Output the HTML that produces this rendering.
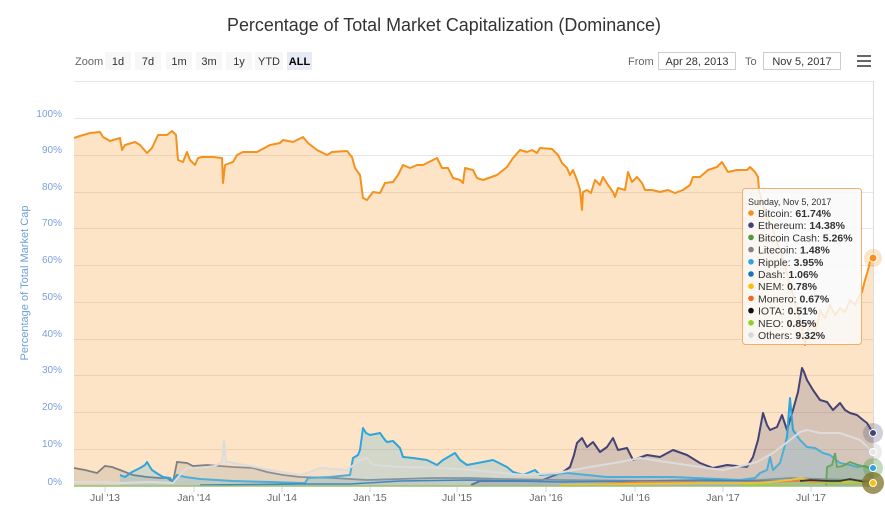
<!DOCTYPE html>
<html><head><meta charset="utf-8"><style>
html,body{margin:0;padding:0;background:#fff;}
svg{display:block;font-family:"Liberation Sans",Arial,sans-serif;}
</style></head><body>
<svg width="885" height="513" viewBox="0 0 885 513" xmlns="http://www.w3.org/2000/svg">
<rect width="885" height="513" fill="#fff"/>
<!-- Title -->
<text x="444" y="31" text-anchor="middle" font-size="18" fill="#333" textLength="434" lengthAdjust="spacingAndGlyphs">Percentage of Total Market Capitalization (Dominance)</text>

<!-- Range selector -->
<text x="75" y="65" font-size="11" fill="#666">Zoom</text>
<g font-size="11" fill="#333" text-anchor="middle">
<rect x="105" y="52" width="26" height="18" fill="#f7f7f7"/><text x="118" y="65">1d</text>
<rect x="135" y="52" width="26" height="18" fill="#f7f7f7"/><text x="148" y="65">7d</text>
<rect x="166" y="52" width="26" height="18" fill="#f7f7f7"/><text x="179" y="65">1m</text>
<rect x="196" y="52" width="26" height="18" fill="#f7f7f7"/><text x="209" y="65">3m</text>
<rect x="226" y="52" width="26" height="18" fill="#f7f7f7"/><text x="239" y="65">1y</text>
<rect x="255" y="52" width="28" height="18" fill="#f7f7f7"/><text x="269" y="65">YTD</text>
<rect x="287" y="52" width="25" height="18" fill="#e6ebf5"/><text x="299.5" y="65" font-weight="bold" fill="#000">ALL</text>
</g>
<text x="628" y="65" font-size="11" fill="#666">From</text>
<rect x="658.5" y="52.5" width="77" height="17" fill="#fff" stroke="#ccc"/>
<text x="697" y="65" font-size="11" fill="#333" text-anchor="middle">Apr 28, 2013</text>
<text x="745" y="65" font-size="11" fill="#666">To</text>
<rect x="763.5" y="52.5" width="77" height="17" fill="#fff" stroke="#ccc"/>
<text x="802" y="65" font-size="11" fill="#333" text-anchor="middle">Nov 5, 2017</text>
<g stroke="#666" stroke-width="2"><line x1="857" y1="56" x2="871" y2="56"/><line x1="857" y1="61" x2="871" y2="61"/><line x1="857" y1="66" x2="871" y2="66"/></g>

<!-- Gridlines -->
<g stroke="#e6e6e6" stroke-width="1">
<line x1="74" y1="81.5" x2="873" y2="81.5"/>
<line x1="74" y1="118.5" x2="873" y2="118.5"/>
<line x1="74" y1="155.5" x2="873" y2="155.5"/>
<line x1="74" y1="192.5" x2="873" y2="192.5"/>
<line x1="74" y1="228.5" x2="873" y2="228.5"/>
<line x1="74" y1="265.5" x2="873" y2="265.5"/>
<line x1="74" y1="302.5" x2="873" y2="302.5"/>
<line x1="74" y1="339.5" x2="873" y2="339.5"/>
<line x1="74" y1="375.5" x2="873" y2="375.5"/>
<line x1="74" y1="412.5" x2="873" y2="412.5"/>
<line x1="74" y1="449.5" x2="873" y2="449.5"/>
</g>
<line x1="873.5" y1="81" x2="873.5" y2="486" stroke="#ddd"/>

<!-- Y labels -->
<g font-size="10" fill="#7b9fdc" text-anchor="end">
<text x="62" y="117">100%</text>
<text x="62" y="153">90%</text>
<text x="62" y="190">80%</text>
<text x="62" y="226">70%</text>
<text x="62" y="263">60%</text>
<text x="62" y="300">50%</text>
<text x="62" y="337">40%</text>
<text x="62" y="373">30%</text>
<text x="62" y="410">20%</text>
<text x="62" y="447">10%</text>
<text x="62" y="485">0%</text>
</g>
<text transform="translate(28,283) rotate(-90)" font-size="11" fill="#6d9fd8" text-anchor="middle" textLength="155" lengthAdjust="spacingAndGlyphs">Percentage of Total Market Cap</text>

<!-- Bitcoin area -->
<path id="btc" fill="rgba(247,147,26,0.25)" stroke="none" d="M74,486 L74,138 80,136 90,133 100,132 103,137 110,141 120,138 122,150 125,145 135,142 140,145 147,153 152,148 158,135 167,135 172,131 176,135 178,160 183,162 187,152 190,160 195,165 198,158 202,157 213,157 222,158 223,183 225,165 230,163 233,162 237,155 243,152 257,152 270,145 280,143 283,140 293,142 303,137 308,143 317,150 327,155 332,152 347,151 352,157 355,168 360,175 363,198 367,200 373,192 380,193 385,183 393,182 398,175 403,165 410,168 417,165 423,165 437,158 442,168 448,168 453,178 460,180 463,183 465,168 473,170 477,178 483,180 497,175 507,167 513,158 520,150 527,152 532,150 537,153 540,148 552,149 558,155 562,163 567,168 570,175 573,170 577,180 580,190 582,210 583,192 587,190 591,193 595,180 600,185 603,177 608,185 613,192 615,197 618,188 625,190 628,172 632,182 637,177 642,183 645,190 652,190 660,192 668,190 675,193 683,190 690,185 693,177 700,177 708,170 717,167 722,162 728,172 737,170 747,170 750,167 755,172 758,177 759,190 763,205 768,220 772,225 776,240 780,250 785,265 790,285 795,300 800,320 805,345 808,330 812,320 816,330 820,310 825,318 830,305 835,315 840,308 845,312 850,300 855,305 858,298 862,292 865,280 868,270 870,262 873,258 L873,486 Z"/>
<polyline fill="none" stroke="#f5921e" stroke-width="2" stroke-linejoin="round" points="74,138 80,136 90,133 100,132 103,137 110,141 120,138 122,150 125,145 135,142 140,145 147,153 152,148 158,135 167,135 172,131 176,135 178,160 183,162 187,152 190,160 195,165 198,158 202,157 213,157 222,158 223,183 225,165 230,163 233,162 237,155 243,152 257,152 270,145 280,143 283,140 293,142 303,137 308,143 317,150 327,155 332,152 347,151 352,157 355,168 360,175 363,198 367,200 373,192 380,193 385,183 393,182 398,175 403,165 410,168 417,165 423,165 437,158 442,168 448,168 453,178 460,180 463,183 465,168 473,170 477,178 483,180 497,175 507,167 513,158 520,150 527,152 532,150 537,153 540,148 552,149 558,155 562,163 567,168 570,175 573,170 577,180 580,190 582,210 583,192 587,190 591,193 595,180 600,185 603,177 608,185 613,192 615,197 618,188 625,190 628,172 632,182 637,177 642,183 645,190 652,190 660,192 668,190 675,193 683,190 690,185 693,177 700,177 708,170 717,167 722,162 728,172 737,170 747,170 750,167 755,172 758,177 759,190 763,205 768,220 772,225 776,240 780,250 785,265 790,285 795,300 800,320 805,345 808,330 812,320 816,330 820,310 825,318 830,305 835,315 840,308 845,312 850,300 855,305 858,298 862,292 865,280 868,270 870,262 873,258"/>

<!-- Ethereum -->
<path fill="rgba(67,67,117,0.2)" d="M471,486 L471,485 480,481 500,481 540,481 563,472 570,467 574,455 577,443 582,438 587,447 593,442 600,452 607,447 613,438 618,450 627,448 633,460 647,455 660,457 673,450 687,455 700,463 713,468 727,465 747,467 753,457 758,440 763,413 767,425 770,430 777,427 782,415 787,430 793,410 798,392 802,368 804,372 807,380 813,390 820,400 827,402 833,410 840,403 845,410 850,413 857,415 863,420 867,423 873,433 L873,486 Z"/>
<polyline fill="none" stroke="#434375" stroke-width="2" stroke-linejoin="round" points="471,485 480,481 500,481 540,481 563,472 570,467 574,455 577,443 582,438 587,447 593,442 600,452 607,447 613,438 618,450 627,448 633,460 647,455 660,457 673,450 687,455 700,463 713,468 727,465 747,467 753,457 758,440 763,413 767,425 770,430 777,427 782,415 787,430 793,410 798,392 802,368 804,372 807,380 813,390 820,400 827,402 833,410 840,403 845,410 850,413 857,415 863,420 867,423 873,433"/>

<!-- Litecoin -->
<path fill="rgba(120,120,120,0.18)" d="M74,486 L74,468 85,470 97,473 105,466 112,467 120,470 133,475 147,477 160,478 167,478 173,482 177,462 187,463 193,466 207,465 233,467 253,468 267,472 283,475 300,477 333,478 367,480 400,479 433,478 470,478 500,479 560,480 640,481 720,481 760,480 790,478 820,479 873,480.6 L873,486 Z"/>
<polyline fill="none" stroke="#7f7f7f" stroke-width="1.8" points="74,468 85,470 97,473 105,466 112,467 120,470 133,475 147,477 160,478 167,478 173,482 177,462 187,463 193,466 207,465 233,467 253,468 267,472 283,475 300,477 333,478 367,480 400,479 433,478 470,478 500,479 560,480 640,481 720,481 760,480 790,478 820,479 873,480.6"/>

<!-- Ripple -->
<path fill="rgba(46,165,219,0.2)" d="M120,486 L120,475 125,477 132,472 140,468 145,465 147,462 150,467 152,470 158,474 163,477 170,478 173,482 177,475 185,477 200,479 233,481 270,482 300,483 305,483 308,478 330,477 350,475 353,458 358,455 360,450 363,428 366,433 370,435 375,434 380,433 385,440 387,442 393,441 400,448 403,457 413,458 427,460 437,465 443,460 455,453 460,460 467,465 483,462 493,460 507,467 513,472 523,475 535,470 540,475 567,473 607,477 673,477 740,480 755,478 760,473 767,470 770,457 773,470 780,463 785,445 787,437 789,410 790,398 792,420 793,430 800,440 807,447 815,448 823,453 830,455 840,463 850,465 857,467 865,466 873,471.5 L873,486 Z"/>
<polyline fill="none" stroke="#2ea5db" stroke-width="2" stroke-linejoin="round" points="120,475 125,477 132,472 140,468 145,465 147,462 150,467 152,470 158,474 163,477 170,478 173,482 177,475 185,477 200,479 233,481 270,482 300,483 305,483 308,478 330,477 350,475 353,458 358,455 360,450 363,428 366,433 370,435 375,434 380,433 385,440 387,442 393,441 400,448 403,457 413,458 427,460 437,465 443,460 455,453 460,460 467,465 483,462 493,460 507,467 513,472 523,475 535,470 540,475 567,473 607,477 673,477 740,480 755,478 760,473 767,470 770,457 773,470 780,463 785,445 787,437 789,410 790,398 792,420 793,430 800,440 807,447 815,448 823,453 830,455 840,463 850,465 857,467 865,466 873,471.5"/>

<!-- Dash -->
<polyline fill="none" stroke="#1c75bc" stroke-width="1.5" points="200,485 300,484 350,484 400,481 470,480 560,482 640,481 700,480 760,481 800,481 873,482"/>
<!-- Bitcoin Cash -->
<path fill="rgba(78,154,60,0.2)" d="M826,486 L827,467 832,465 835,453 837,467 843,466 850,462 858,465 867,467 873,467 L873,486 Z"/>
<polyline fill="none" stroke="#4e9a3c" stroke-width="1.8" points="826,486 827,467 832,465 835,453 837,467 843,466 850,462 858,465 867,467 873,467"/>
<!-- Monero -->
<polyline fill="none" stroke="#f26822" stroke-width="1.8" points="580,485 600,484 640,482 680,482 720,483 760,482 800,481 873,483.5"/>
<!-- NEM -->
<polyline fill="none" stroke="#f5c10e" stroke-width="1.8" points="560,485 620,484 700,483 760,483 790,480 800,478 810,480 830,481 850,482 873,483"/>
<!-- IOTA -->
<polyline fill="none" stroke="#111" stroke-width="1.8" points="800,481 810,480 830,481 840,481 850,479 860,481 873,484"/>
<!-- NEO -->
<polyline fill="none" stroke="#8fd11f" stroke-width="1.5" points="740,485 790,484 820,483 873,483"/>
<!-- Others -->
<path fill="rgba(210,210,210,0.2)" d="M74,486 L74,482 100,482 120,483 150,482 173,483 180,475 187,468 200,468 215,466 222,462 224,440 226,462 230,462 233,463 250,466 270,470 300,475 307,473 320,468 347,470 360,460 367,458 373,465 400,467 440,468 473,470 523,475 557,473 590,467 620,462 640,458 673,463 707,468 723,470 745,465 757,462 773,453 790,440 800,432 807,430 820,433 840,433 860,440 873,452 L873,486 Z"/>
<polyline fill="none" stroke="#dcdcdc" stroke-width="2" stroke-linejoin="round" points="74,482 100,482 120,483 150,482 173,483 180,475 187,468 200,468 215,466 222,462 224,440 226,462 230,462 233,463 250,466 270,470 300,475 307,473 320,468 347,470 360,460 367,458 373,465 400,467 440,468 473,470 523,475 557,473 590,467 620,462 640,458 673,463 707,468 723,470 745,465 757,462 773,453 790,440 800,432 807,430 820,433 840,433 860,440 873,452"/>

<!-- X axis -->
<line x1="74" y1="486" x2="873" y2="486" stroke="#9cbf6e" stroke-width="1.5"/>
<g stroke="#ccd6eb"><line x1="105" y1="487" x2="105" y2="492"/><line x1="194" y1="487" x2="194" y2="492"/><line x1="282" y1="487" x2="282" y2="492"/><line x1="370" y1="487" x2="370" y2="492"/><line x1="457" y1="487" x2="457" y2="492"/><line x1="546" y1="487" x2="546" y2="492"/><line x1="635" y1="487" x2="635" y2="492"/><line x1="723" y1="487" x2="723" y2="492"/><line x1="811" y1="487" x2="811" y2="492"/></g>
<g font-size="10.5" fill="#666" text-anchor="middle">
<text x="105" y="501">Jul '13</text><text x="194" y="501">Jan '14</text><text x="282" y="501">Jul '14</text><text x="370" y="501">Jan '15</text><text x="457" y="501">Jul '15</text><text x="546" y="501">Jan '16</text><text x="635" y="501">Jul '16</text><text x="723" y="501">Jan '17</text><text x="811" y="501">Jul '17</text>
</g>

<!-- Hover markers -->
<circle cx="873" cy="258" r="9" fill="rgba(247,147,26,0.25)"/><circle cx="873" cy="258" r="4" fill="#f5921e" stroke="#fff" stroke-width="1"/>
<circle cx="873" cy="433" r="10" fill="rgba(67,67,117,0.25)"/><circle cx="873" cy="433" r="3.5" fill="#434375" stroke="#fff" stroke-width="1"/>
<circle cx="873" cy="452" r="9" fill="rgba(200,200,200,0.35)"/><circle cx="873" cy="452" r="3.5" fill="#e6e6e6" stroke="#fff" stroke-width="1"/>
<circle cx="873" cy="468" r="10" fill="rgba(78,154,60,0.35)"/><circle cx="873" cy="468" r="3.5" fill="#2ea5db" stroke="#fff" stroke-width="1"/>
<circle cx="873" cy="483" r="11" fill="rgba(128,115,40,0.75)"/><circle cx="873" cy="483" r="3.5" fill="#f5c10e" stroke="#fff" stroke-width="1"/>

<!-- Tooltip -->
<rect x="742.5" y="188.5" width="119" height="156" rx="3" fill="rgba(249,249,249,0.85)" stroke="#f3ad69" stroke-width="1"/>
<text x="748" y="205" font-size="9" fill="#333">Sunday, Nov 5, 2017</text>
<g font-size="10.5" fill="#333">
<circle cx="751" cy="213" r="2.8" fill="#f5921e"/><text x="758" y="217">Bitcoin: <tspan font-weight="bold">61.74%</tspan></text>
<circle cx="751" cy="225.2" r="2.8" fill="#434375"/><text x="758" y="229.2">Ethereum: <tspan font-weight="bold">14.38%</tspan></text>
<circle cx="751" cy="237.4" r="2.8" fill="#4e9a3c"/><text x="758" y="241.4">Bitcoin Cash: <tspan font-weight="bold">5.26%</tspan></text>
<circle cx="751" cy="249.6" r="2.8" fill="#838383"/><text x="758" y="253.6">Litecoin: <tspan font-weight="bold">1.48%</tspan></text>
<circle cx="751" cy="261.8" r="2.8" fill="#2ea5db"/><text x="758" y="265.8">Ripple: <tspan font-weight="bold">3.95%</tspan></text>
<circle cx="751" cy="274" r="2.8" fill="#1c75bc"/><text x="758" y="278">Dash: <tspan font-weight="bold">1.06%</tspan></text>
<circle cx="751" cy="286.2" r="2.8" fill="#f5c10e"/><text x="758" y="290.2">NEM: <tspan font-weight="bold">0.78%</tspan></text>
<circle cx="751" cy="298.4" r="2.8" fill="#f26822"/><text x="758" y="302.4">Monero: <tspan font-weight="bold">0.67%</tspan></text>
<circle cx="751" cy="310.6" r="2.8" fill="#111"/><text x="758" y="314.6">IOTA: <tspan font-weight="bold">0.51%</tspan></text>
<circle cx="751" cy="322.8" r="2.8" fill="#8fd11f"/><text x="758" y="326.8">NEO: <tspan font-weight="bold">0.85%</tspan></text>
<circle cx="751" cy="335" r="2.8" fill="#d8d8d8"/><text x="758" y="339">Others: <tspan font-weight="bold">9.32%</tspan></text>
</g>
</svg>
</body></html>
